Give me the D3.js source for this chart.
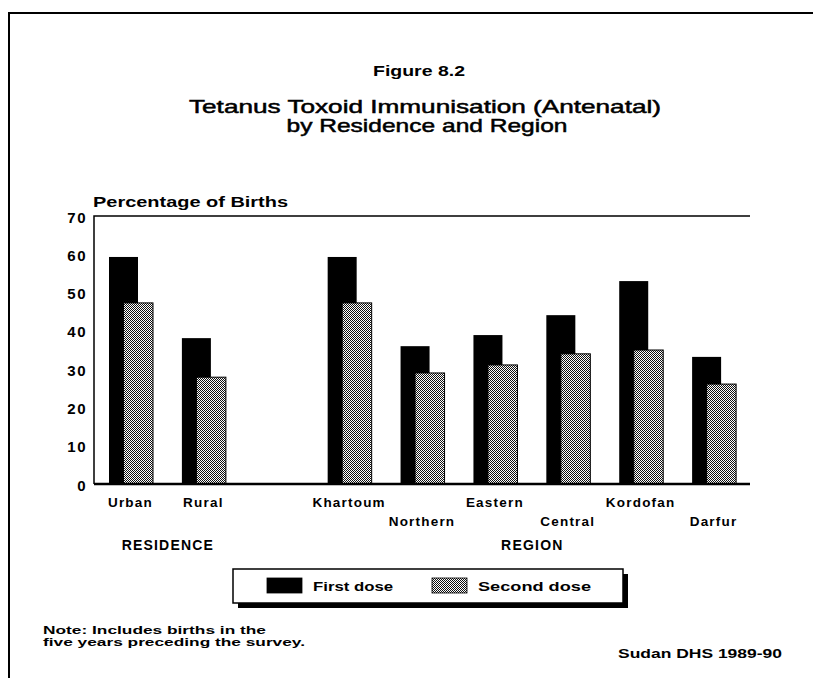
<!DOCTYPE html>
<html>
<head>
<meta charset="utf-8">
<script src="https://cdn.jsdelivr.net/npm/d3@7"></script>
<style>
  body { margin: 0; background: #fff; }
  svg { display: block; }
  text { font-family: "Liberation Sans", Arial, sans-serif; fill: #000; }
</style>
</head>
<body>
<svg id="chart" width="813" height="678"></svg>
<script>
// values (percent of births)
const residence = ["Urban", "Rural"];
const regions = ["Khartoum", "Northern", "Eastern", "Central", "Kordofan", "Darfur"];
const firstDose = [59.3, 38.1, 59.3, 36.0, 38.9, 44.1, 53.0, 33.2];
const secondDose = [47.3, 27.9, 47.3, 29.0, 31.1, 34.0, 35.0, 26.1];
const yTicks = [0, 10, 20, 30, 40, 50, 60, 70];
const seriesNames = ["First dose", "Second dose"];

const categories = residence.concat(regions);
const slots = residence.concat(["gap"], regions);

const svg = d3.select("#chart");

// halftone fill for the second dose
const pat = svg.append("defs").append("pattern")
  .attr("id", "dots").attr("patternUnits", "userSpaceOnUse")
  .attr("width", 2).attr("height", 2);
pat.append("rect").attr("width", 2).attr("height", 2).attr("fill", "#fff");
pat.append("rect").attr("width", 1).attr("height", 1).attr("fill", "#111");
pat.append("rect").attr("x", 1).attr("y", 1).attr("width", 1).attr("height", 1).attr("fill", "#111");

// page frame (left and top rules)
svg.append("path").attr("d", "M9,678V13H813").attr("fill", "none")
  .attr("stroke", "#000").attr("stroke-width", 2);

// sets an exact width on a text so the spacing matches the scan
function fit(sel, w) {
  return sel.attr("textLength", w).attr("lengthAdjust", "spacingAndGlyphs");
}

// titles
fit(svg.append("text").attr("x", 419).attr("y", 76).attr("text-anchor", "middle")
  .attr("font-size", 14).attr("font-weight", "bold").text("Figure 8.2"), 92);
fit(svg.append("text").attr("x", 425).attr("y", 113).attr("text-anchor", "middle")
  .attr("font-size", 19).attr("stroke", "#000").attr("stroke-width", 0.5)
  .text("Tetanus Toxoid Immunisation (Antenatal)"), 472);
fit(svg.append("text").attr("x", 427).attr("y", 132).attr("text-anchor", "middle")
  .attr("font-size", 19).attr("stroke", "#000").attr("stroke-width", 0.5)
  .text("by Residence and Region"), 281);
fit(svg.append("text").attr("x", 93).attr("y", 207)
  .attr("font-size", 14).attr("font-weight", "bold").text("Percentage of Births"), 195);

// scales
const x = d3.scaleBand().domain(slots).range([94, 750]);
const y = d3.scaleLinear().domain([0, 70]).range([484, 216]);

// plot frame
svg.append("path").attr("d", `M${x.range()[0]},${y(0)}V${y(70)}H${x.range()[1]}`)
  .attr("fill", "none").attr("stroke", "#000").attr("stroke-width", 1.5);

// y axis labels
const yAxis = svg.append("g").attr("transform", `translate(${x.range()[0]},0)`)
  .call(d3.axisLeft(y).tickValues(yTicks).tickSize(0).tickPadding(7));
yAxis.select(".domain").remove();
yAxis.selectAll("text").attr("font-size", 15).attr("font-weight", "bold")
  .attr("font-family", "Liberation Sans, Arial, sans-serif").attr("letter-spacing", 1.5)
  .attr("dy", "0.4em");

// bars
const rows = categories.map((c, i) => ({ c, first: firstDose[i], second: secondDose[i] }));
const bars = svg.append("g");
bars.selectAll(".first").data(rows).enter().append("rect")
  .attr("class", "first")
  .attr("x", d => x(d.c) + 15).attr("width", 29)
  .attr("y", d => y(d.first)).attr("height", d => y(0) - y(d.first))
  .attr("fill", "#000");
bars.selectAll(".second").data(rows).enter().append("rect")
  .attr("class", "second")
  .attr("x", d => x(d.c) + 29.5).attr("width", 29.5)
  .attr("y", d => y(d.second)).attr("height", d => y(0) - y(d.second))
  .attr("fill", "url(#dots)").attr("stroke", "#000").attr("stroke-width", 1);

// baseline
svg.append("line").attr("x1", x.range()[0]).attr("x2", x.range()[1])
  .attr("y1", y(0)).attr("y2", y(0)).attr("stroke", "#000").attr("stroke-width", 2.5);

// x axis labels, regions staggered on two rows
const xAxis = svg.append("g").attr("transform", `translate(0,${y(0)})`)
  .call(d3.axisBottom(x).tickSize(0).tickPadding(13).tickFormat(d => d === "gap" ? "" : d));
xAxis.select(".domain").remove();
xAxis.selectAll("text").attr("font-size", 13.5).attr("font-weight", "bold")
  .attr("font-family", "Liberation Sans, Arial, sans-serif").attr("letter-spacing", 1.2)
  .attr("transform", d => regions.indexOf(d) % 2 === 1 ? "translate(0,19)" : null);

// group titles
const groupLabel = (name, a, b) => svg.append("text")
  .attr("x", (x(a) + x(b) + x.bandwidth()) / 2 + 1).attr("y", 550)
  .attr("text-anchor", "middle").attr("font-size", 14).attr("font-weight", "bold")
  .attr("letter-spacing", 1.2).text(name);
groupLabel("RESIDENCE", residence[0], residence[residence.length - 1]);
groupLabel("REGION", regions[0], regions[regions.length - 1]);

// legend with drop shadow
const lg = svg.append("g");
lg.append("rect").attr("x", 238).attr("y", 574).attr("width", 390).attr("height", 34).attr("fill", "#000");
lg.append("rect").attr("x", 233).attr("y", 569).attr("width", 390).attr("height", 34)
  .attr("fill", "#fff").attr("stroke", "#000").attr("stroke-width", 1.5);
const legendX = [267, 432];
const legendW = [80, 113];
seriesNames.forEach((name, i) => {
  lg.append("rect").attr("x", legendX[i]).attr("y", 578).attr("width", 35).attr("height", 15)
    .attr("fill", i === 0 ? "#000" : "url(#dots)").attr("stroke", "#000").attr("stroke-width", 0.8);
  fit(lg.append("text").attr("x", legendX[i] + 46).attr("y", 591)
    .attr("font-size", 13).attr("font-weight", "bold").text(name), legendW[i]);
});

// note and source
fit(svg.append("text").attr("x", 43).attr("y", 634).attr("font-size", 11).attr("font-weight", "bold")
  .text("Note: Includes births in the"), 223);
fit(svg.append("text").attr("x", 43).attr("y", 646).attr("font-size", 11).attr("font-weight", "bold")
  .text("five years preceding the survey."), 262);
fit(svg.append("text").attr("x", 618).attr("y", 658).attr("font-size", 13.5).attr("font-weight", "bold")
  .text("Sudan DHS 1989-90"), 164);
</script>
</body>
</html>
